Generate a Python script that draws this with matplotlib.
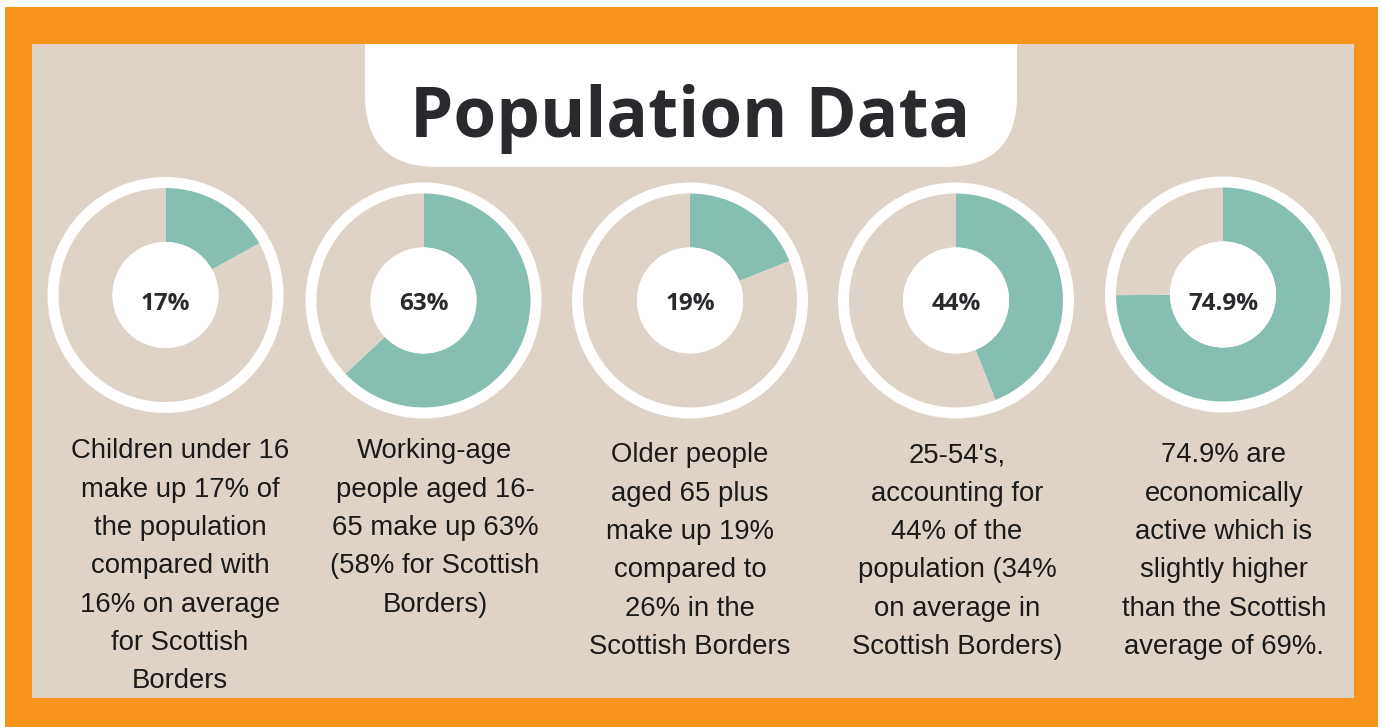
import matplotlib
matplotlib.use('Agg')
import matplotlib.pyplot as plt
from matplotlib.patches import Rectangle, FancyBboxPatch

# donut values (percent shown in the teal segment)
labels = ['17%', '63%', '19%', '44%', '74.9%']
values = [17, 63, 19, 44, 74.9]

captions = [
    ['Children under 16', 'make up 17% of', 'the population', 'compared with',
     '16% on average', 'for Scottish', 'Borders'],
    ['Working-age', 'people aged 16-', '65 make up 63%', '(58% for Scottish',
     'Borders)'],
    ['Older people', 'aged 65 plus', 'make up 19%', 'compared to',
     '26% in the', 'Scottish Borders'],
    ["25-54's,", 'accounting for', '44% of the', 'population (34%',
     'on average in', 'Scottish Borders)'],
    ['74.9% are', 'economically', 'active which is', 'slightly higher',
     'than the Scottish', 'average of 69%.'],
]

title = 'Population Data'

ORANGE = '#F7941E'
BEIGE = '#DFD3C8'
TEAL = '#86BFB1'
INK = '#2A292D'

W, H = 1382, 727
fig = plt.figure(figsize=(W / 100, H / 100), dpi=100)
fig.patch.set_facecolor('white')

# background layer in pixel coordinates (y pointing down)
bg = fig.add_axes([0, 0, 1, 1])
bg.set_xlim(0, W)
bg.set_ylim(H, 0)
bg.axis('off')

bg.add_patch(Rectangle((5, 7), 1373, 720, facecolor=ORANGE, lw=0))
panel = Rectangle((32, 44), 1322, 654, facecolor=BEIGE, lw=0)
bg.add_patch(panel)

# title tab with rounded lower corners, top edge hidden under the border
tab = FancyBboxPatch((365, -40), 652, 207, boxstyle='round,pad=0,rounding_size=72',
                     facecolor='white', lw=0)
bg.add_patch(tab)
tab.set_clip_path(panel)
bg.text(690, 137, title, ha='center', va='baseline', fontsize=49.8,
        fontweight='bold', family='Open Sans', color=INK)

centers = [(165.5, 295), (423.5, 300.5), (690, 300.5), (956, 300.5), (1223, 294.5)]
R_OUT, R_RING, R_IN = 118, 107, 53

for (cx, cy), v, lab in zip(centers, values, labels):
    ax = fig.add_axes([(cx - R_OUT) / W, (H - cy - R_OUT) / H,
                       2 * R_OUT / W, 2 * R_OUT / H])
    ax.pie([1], radius=1, colors=['white'], wedgeprops=dict(lw=0))
    ax.pie([v, 100 - v], radius=R_RING / R_OUT, startangle=90, counterclock=False,
           colors=[TEAL, BEIGE],
           wedgeprops=dict(width=(R_RING - R_IN) / R_OUT, lw=0))
    ax.pie([1], radius=R_IN / R_OUT, colors=['white'], wedgeprops=dict(lw=0))
    ax.set_xlim(-1, 1)
    ax.set_ylim(-1, 1)
    ax.text(0, (cy - 310) / R_OUT, lab, ha='center', va='baseline', fontsize=17.5,
            fontweight='bold', family='Open Sans', color=INK)

# captions under each donut
text_x = [180, 435, 690, 957, 1224]
text_y0 = [451.5, 451.5, 455.5, 455.5, 455.5]
for x, y0, lines in zip(text_x, text_y0, captions):
    for i, line in enumerate(lines):
        bg.text(x, y0 + i * 38.3, line, ha='center', va='center', fontsize=19.8,
                family='Liberation Sans', color='#1A1A1A')

fig.savefig('out.png', dpi=100, facecolor=fig.get_facecolor())
